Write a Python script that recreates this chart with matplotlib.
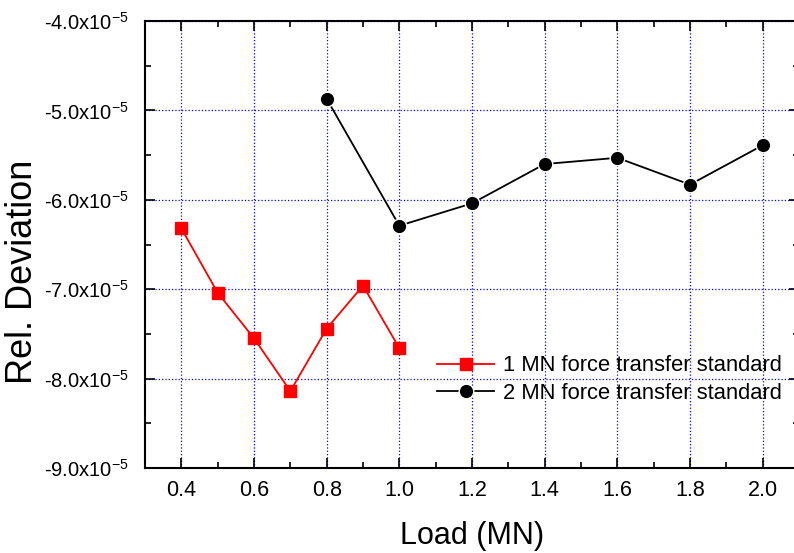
import matplotlib
matplotlib.use('Agg')
from matplotlib import pyplot as plt
from matplotlib.ticker import MultipleLocator, FuncFormatter

plt.rcParams['font.family'] = ['Liberation Sans', 'DejaVu Sans']
plt.rcParams['mathtext.fontset'] = 'custom'
plt.rcParams['mathtext.rm'] = 'Liberation Sans'
plt.rcParams['mathtext.it'] = 'Liberation Sans'

# 1 MN force transfer standard
load_1mn = [0.4, 0.5, 0.6, 0.7, 0.8, 0.9, 1.0]
dev_1mn = [-6.32e-5, -7.04e-5, -7.55e-5, -8.14e-5, -7.44e-5, -6.96e-5, -7.66e-5]

# 2 MN force transfer standard
load_2mn = [0.8, 1.0, 1.2, 1.4, 1.6, 1.8, 2.0]
dev_2mn = [-4.87e-5, -6.29e-5, -6.04e-5, -5.60e-5, -5.53e-5, -5.83e-5, -5.39e-5]

x_ticks = [0.4, 0.6, 0.8, 1.0, 1.2, 1.4, 1.6, 1.8, 2.0]

fig = plt.figure(figsize=(7.94, 5.53), dpi=100)
ax = fig.add_axes([145 / 794, 1 - 468 / 553, (799 - 145) / 794, (468 - 21) / 553])

ax.plot(load_1mn, dev_1mn, color='red', lw=1.3, marker='s', ms=8,
        mfc='red', mec='red', label='1 MN force transfer standard', zorder=3)
ax.plot(load_2mn, dev_2mn, color='black', lw=1.3, marker='o', ms=10.5,
        mfc='black', mec='white', mew=1.0, label='2 MN force transfer standard', zorder=3)

ax.set_xlim(0.3, 2.1)
ax.set_ylim(-9e-5, -4e-5)
ax.set_xticks(x_ticks)
ax.xaxis.set_minor_locator(MultipleLocator(0.1))
ax.yaxis.set_major_locator(MultipleLocator(1e-5))
ax.yaxis.set_minor_locator(MultipleLocator(0.5e-5))
ax.xaxis.set_major_formatter(FuncFormatter(lambda v, p: f'{v:.1f}'))
ax.yaxis.set_major_formatter(FuncFormatter(lambda v, p: f'{v * 1e5:.1f}x10$^{{-5}}$'))

ax.grid(True, which='major', color='blue', ls=':', lw=0.9)
ax.tick_params(which='both', direction='in', top=True, right=True, width=1.2)
ax.tick_params(axis='x', labelsize=15.5, pad=9)
ax.tick_params(axis='y', labelsize=14.5, pad=12)
ax.tick_params(which='major', length=7)
ax.tick_params(which='minor', length=4)
for s in ax.spines.values():
    s.set_linewidth(1.5)

ax.set_xlabel('Load (MN)', fontsize=22, labelpad=14)
ax.set_ylabel('Rel. Deviation', fontsize=26)
ax.yaxis.set_label_coords((40 - 145) / 654, (468 - 272) / 447)

ax.legend(loc='upper left', bbox_to_anchor=((422 - 145) / 654, 1 - (340 - 21) / 447),
          frameon=False, fontsize=15.8, handlelength=2.6, handletextpad=0.4,
          labelspacing=0.3, borderpad=0.2)

fig.savefig('out.png', dpi=100)
